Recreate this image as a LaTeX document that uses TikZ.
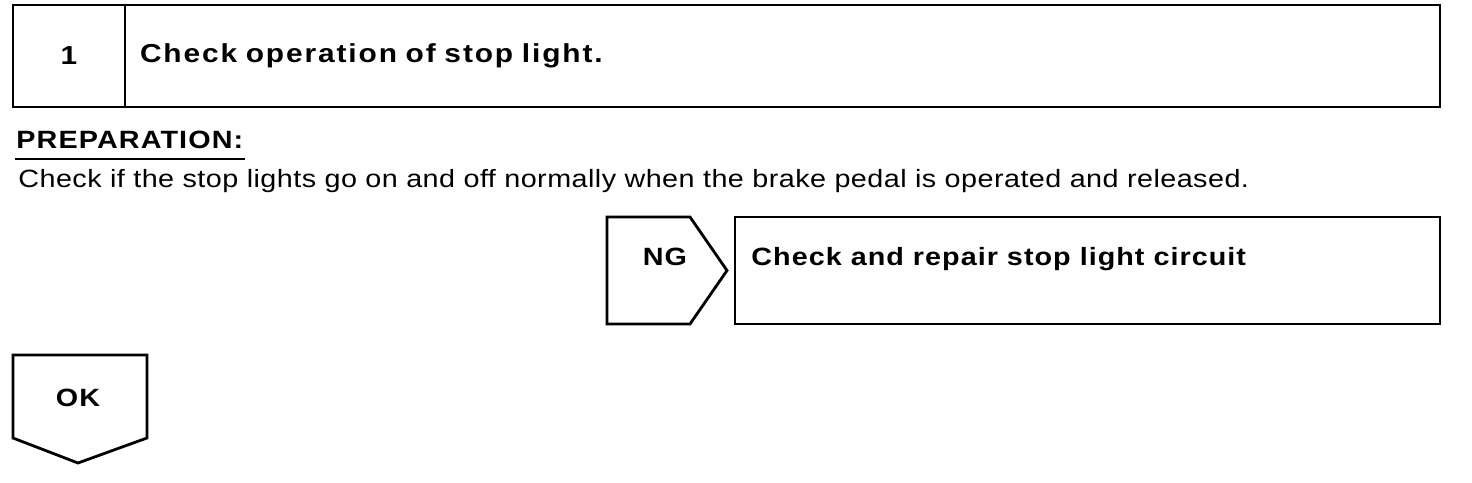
\documentclass[tikz,border=0pt]{standalone}
\usepackage{fontspec}
\setmainfont{Liberation Sans}[FakeStretch=1.15]
\usetikzlibrary{positioning}

\begin{document}
\begin{tikzpicture}[
  x=0.5pt, y=-0.5pt, line width=1.4pt,
  cell/.style={draw, inner sep=0pt, outer sep=0pt, minimum height=51pt},
  head/.style={font=\fontsize{12.5}{15}\selectfont\bfseries\addfontfeatures{LetterSpace=4.1}},
  big/.style={font={\fontsize{13}{15}\selectfont\bfseries\addfontfeatures{LetterSpace=7.2}\spaceskip=6.4pt\relax}},
  caps/.style={font=\fontsize{12.5}{15}\selectfont\bfseries\addfontfeatures{LetterSpace=4.5}},
  plain/.style={font=\fontsize{12.5}{15}\selectfont\addfontfeatures{LetterSpace=1.8}},
  tag/.style={head, anchor=base},
]
\useasboundingbox (0,0) rectangle (1472,482);

\node[cell, big, minimum width=56pt, anchor=north west] (num) at (13,5) {1};
\node[cell, big, anchor=north west, minimum width=657.5pt, text width=642.5pt, inner xsep=7.5pt] (title) at (num.north east) {Check operation of stop light.};

\node[caps, anchor=base west, inner sep=0pt] (prep) at (15,148) {PREPARATION:};
\draw[line width=1pt] ([yshift=-5.5pt]prep.base west) -- ([yshift=-5.5pt]prep.base east);
\node[plain, anchor=base west, inner sep=0pt] (check) at (17,187) {Check if the stop lights go on and off normally when the brake pedal is operated and released.};

% NG branch
\draw (607,217) -- (690,217) -- (727,270.5) -- (690,324) -- (607,324) -- cycle;
\node[tag] (ng) at (665,265.5) {NG};
\node[cell, anchor=north west, minimum width=352.5pt, minimum height=53.5pt] (repair) at (735,217) {};
\node[head, anchor=base west, inner sep=0pt] (repairtxt) at (750,265.5) {Check and repair stop light circuit};

% OK branch
\draw (13,355) -- (147,355) -- (147,438) -- (78,463) -- (13,438) -- cycle;
\node[tag] (ok) at (78,406.5) {OK};
\end{tikzpicture}
\end{document}
